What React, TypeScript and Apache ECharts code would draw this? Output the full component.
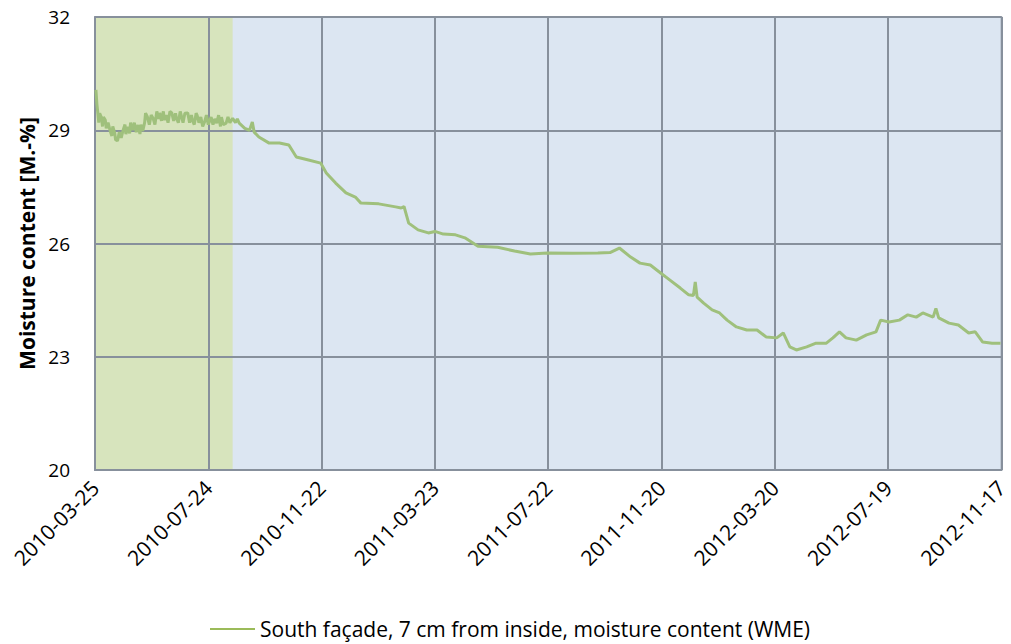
import React, { useEffect, useRef } from "react";
import * as echarts from "echarts";

const START = "2010-03-25";
const TICK_STEP_DAYS = 121;
const xTickLabels = [
  "2010-03-25", "2010-07-24", "2010-11-22", "2011-03-23", "2011-07-22",
  "2011-11-20", "2012-03-20", "2012-07-19", "2012-11-17",
];
const yTicks = [20, 23, 26, 29, 32];
const shadedPeriod = ["2010-03-25", "2010-08-19"];
const seriesName = "South façade, 7 cm from inside, moisture content (WME)";

const dates = [
  "2010-03-26", "2010-03-27", "2010-03-28", "2010-03-29", "2010-03-30", "2010-04-01",
  "2010-04-02", "2010-04-03", "2010-04-05", "2010-04-06", "2010-04-08", "2010-04-10",
  "2010-04-12", "2010-04-13", "2010-04-15", "2010-04-16", "2010-04-18", "2010-04-20",
  "2010-04-22", "2010-04-24", "2010-04-26", "2010-04-27", "2010-04-29", "2010-05-01",
  "2010-05-02", "2010-05-04", "2010-05-06", "2010-05-08", "2010-05-10", "2010-05-12",
  "2010-05-13", "2010-05-15", "2010-05-17", "2010-05-18", "2010-05-20", "2010-05-22",
  "2010-05-24", "2010-05-26", "2010-05-28", "2010-05-30", "2010-06-01", "2010-06-02",
  "2010-06-04", "2010-06-06", "2010-06-07", "2010-06-09", "2010-06-11", "2010-06-13",
  "2010-06-15", "2010-06-17", "2010-06-19", "2010-06-20", "2010-06-22", "2010-06-24",
  "2010-06-25", "2010-06-27", "2010-06-29", "2010-07-02", "2010-07-04", "2010-07-06",
  "2010-07-07", "2010-07-09", "2010-07-11", "2010-07-12", "2010-07-14", "2010-07-16",
  "2010-07-18", "2010-07-20", "2010-07-22", "2010-07-24", "2010-07-27", "2010-07-29",
  "2010-07-31", "2010-08-02", "2010-08-04", "2010-08-06", "2010-08-07", "2010-08-09",
  "2010-08-12", "2010-08-14", "2010-08-16", "2010-08-19", "2010-08-22", "2010-08-24",
  "2010-08-26", "2010-09-01", "2010-09-06", "2010-09-09", "2010-09-11", "2010-09-16",
  "2010-09-27", "2010-10-08", "2010-10-18", "2010-10-26", "2010-11-08", "2010-11-21",
  "2010-11-27", "2010-12-07", "2010-12-18", "2010-12-28", "2011-01-03", "2011-01-22",
  "2011-02-09", "2011-02-15", "2011-02-18", "2011-02-23", "2011-03-05", "2011-03-16",
  "2011-03-23", "2011-04-01", "2011-04-14", "2011-04-24", "2011-05-08", "2011-05-29",
  "2011-06-16", "2011-07-03", "2011-07-21", "2011-08-17", "2011-09-13", "2011-09-26",
  "2011-10-06", "2011-10-18", "2011-10-28", "2011-11-08", "2011-11-19", "2011-11-29",
  "2011-12-10", "2011-12-19", "2011-12-24", "2011-12-26", "2011-12-28", "2012-01-04",
  "2012-01-13", "2012-01-21", "2012-01-29", "2012-02-08", "2012-02-19", "2012-03-01",
  "2012-03-11", "2012-03-22", "2012-03-29", "2012-04-05", "2012-04-12", "2012-04-23",
  "2012-05-03", "2012-05-14", "2012-05-21", "2012-05-28", "2012-06-04", "2012-06-15",
  "2012-06-26", "2012-07-06", "2012-07-11", "2012-07-20", "2012-07-31", "2012-08-09",
  "2012-08-18", "2012-08-25", "2012-09-05", "2012-09-08", "2012-09-11", "2012-09-22",
  "2012-10-02", "2012-10-13", "2012-10-20", "2012-10-28", "2012-11-07", "2012-11-16",
];

const moisture = [
  30.07, 29.7, 29.46, 29.2, 29.45, 29.33,
  29.1, 29.35, 29.27, 29.05, 29.2, 29.0,
  28.85, 29.1, 28.93, 28.75, 28.72, 28.95,
  28.8, 29.0, 29.15, 28.9, 29.09, 28.92,
  29.2, 29.0, 29.2, 28.95, 29.14, 28.9,
  29.15, 28.98, 29.2, 29.45, 29.35, 29.15,
  29.4, 29.32, 29.15, 29.5, 29.3, 29.46,
  29.25, 29.5, 29.27, 29.4, 29.2, 29.5,
  29.46, 29.25, 29.45, 29.32, 29.2, 29.5,
  29.4, 29.2, 29.45, 29.46, 29.2, 29.4,
  29.27, 29.15, 29.45, 29.4, 29.2, 29.35,
  29.1, 29.22, 29.4, 29.15, 29.35, 29.15,
  29.3, 29.19, 29.4, 29.1, 29.35, 29.15,
  29.19, 29.35, 29.2, 29.32, 29.2, 29.3,
  29.19, 29.05, 29.0, 29.22, 28.95, 28.82,
  28.66, 28.66, 28.61, 28.29, 28.21, 28.13,
  27.87, 27.6, 27.34, 27.23, 27.07, 27.05,
  26.97, 26.94, 26.98, 26.54, 26.36, 26.28,
  26.32, 26.25, 26.23, 26.15, 25.93, 25.9,
  25.8, 25.72, 25.75, 25.74, 25.75, 25.76,
  25.88, 25.64, 25.48, 25.43, 25.22, 25.03,
  24.82, 24.64, 24.62, 24.98, 24.58, 24.42,
  24.24, 24.16, 23.97, 23.79, 23.71, 23.71,
  23.52, 23.5, 23.63, 23.26, 23.18, 23.26,
  23.36, 23.36, 23.5, 23.66, 23.5, 23.44,
  23.58, 23.66, 23.97, 23.92, 23.97, 24.11,
  24.05, 24.16, 24.05, 24.28, 24.03, 23.89,
  23.84, 23.63, 23.66, 23.39, 23.36, 23.36,
];

const DAY = 86400000;
const dayOffset = (d: string) => Math.round((Date.parse(d) - Date.parse(START)) / DAY);

const FONT = "Open Sans";
const GRID_COLOR = "#87909c";

export default function App() {
  const ref = useRef<HTMLDivElement>(null);
  useEffect(() => {
    document.body.style.margin = "0";
    if (!ref.current) return;
    const chart = echarts.init(ref.current, undefined, { renderer: "svg" });
    const maxDay = (xTickLabels.length - 1) * TICK_STEP_DAYS;
    chart.setOption({
      animation: false,
      backgroundColor: "#ffffff",
      textStyle: { fontFamily: FONT },
      grid: {
        left: 95,
        top: 17,
        right: 5,
        bottom: 174,
        show: true,
        z: -1,
        backgroundColor: "#dce6f2",
        borderColor: GRID_COLOR,
        borderWidth: 1.5,
      },
      legend: {
        data: [{ name: seriesName, icon: "rect" }],
        left: 205,
        top: 612,
        itemWidth: 45,
        itemHeight: 2,
        itemGap: 8,
        textStyle: { fontSize: 21, color: "#000", fontFamily: FONT, lineHeight: 24 },
      },
      xAxis: {
        type: "value",
        z: 2,
        min: 0,
        max: maxDay,
        interval: TICK_STEP_DAYS,
        axisLine: { show: true, lineStyle: { color: GRID_COLOR, width: 2 } },
        axisTick: { show: false },
        splitLine: { show: true, lineStyle: { color: GRID_COLOR, width: 2 } },
        axisLabel: {
          rotate: 45,
          margin: 14,
          fontSize: 21,
          color: "#000",
          fontFamily: FONT,
          formatter: (v: number) => xTickLabels[Math.round(v / TICK_STEP_DAYS)] ?? "",
        },
      },
      yAxis: {
        type: "value",
        z: 2,
        min: yTicks[0],
        max: yTicks[yTicks.length - 1],
        interval: yTicks[1] - yTicks[0],
        name: "Moisture content [M.-%]",
        nameLocation: "middle",
        nameRotate: 90,
        nameGap: 56,
        nameTextStyle: { fontSize: 21, fontWeight: "bold", color: "#000", fontFamily: FONT },
        axisLine: { show: true, lineStyle: { color: GRID_COLOR, width: 2 } },
        axisTick: { show: false },
        splitLine: { show: true, lineStyle: { color: GRID_COLOR, width: 2 } },
        axisLabel: { fontSize: 19, color: "#000", margin: 25, fontFamily: FONT },
      },
      series: [
        {
          name: "shade",
          type: "line",
          z: 0,
          data: [],
          markArea: {
            silent: true,
            z: 0,
            itemStyle: { color: "#d7e4bd" },
            data: [[{ xAxis: dayOffset(shadedPeriod[0]) }, { xAxis: dayOffset(shadedPeriod[1]) }]],
          },
        },
        {
          name: seriesName,
          type: "line",
          showSymbol: false,
          symbol: "none",
          color: "#9bbb59",
          lineStyle: { color: "#9fc07c", width: 3 },
          data: dates.map((d, i) => [dayOffset(d), moisture[i]]),
          z: 3,
        },
      ],
    });
    return () => chart.dispose();
  }, []);
  return <div ref={ref} style={{ width: 1011, height: 644 }} />;
}
